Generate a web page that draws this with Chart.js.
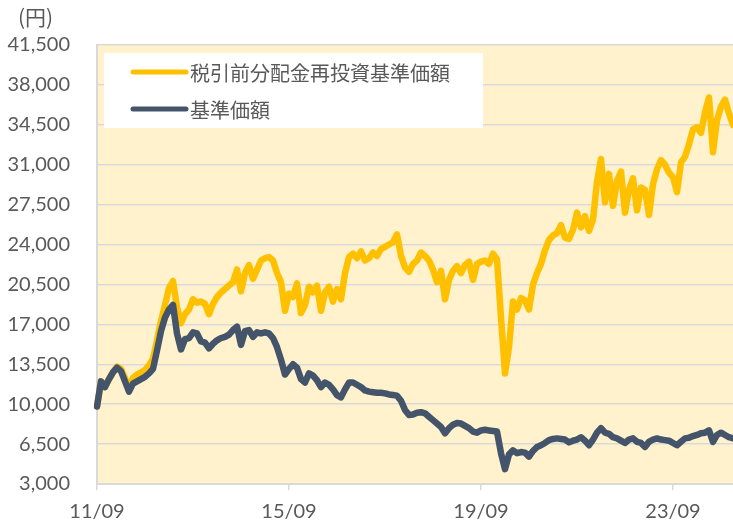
<!DOCTYPE html>
<html lang="ja">
  <head>
    <meta charset="UTF-8" />
    <title>基準価額の推移</title>
    <style>
      html,
      body {
        margin: 0;
        padding: 0;
        background: #fff;
      }
      .chart-box {
        width: 733px;
        height: 527px;
      }
    </style>
  </head>
  <body>
    <div class="chart-box">
      <canvas id="myChart" width="733" height="527"></canvas>
    </div>

    <script src="https://cdn.jsdelivr.net/npm/chart.js"></script>

    <script>
      // 月次 11/09 ～ 24/12
      const months = [];
      for (let y = 2011; y <= 2024; y++) {
        for (let m = 1; m <= 12; m++) {
          if (y === 2011 && m < 9) continue;
          months.push(String(y).slice(2) + "/" + String(m).padStart(2, "0"));
        }
      }

      const xTickLabels = ["11/09", "15/09", "19/09", "23/09"];
      const yTickValues = [3000, 6500, 10000, 13500, 17000, 20500, 24000, 27500, 31000, 34500, 38000, 41500];

      const seriesNames = ["税引前分配金再投資基準価額", "基準価額"];

      // 税引前分配金再投資基準価額
      const reinvested = [
        9800, 12000, 11500, 12200, 12800, 13300, 13100, 12300, 11500, 12300,
        12600, 12800, 13000, 13400, 14000, 15600, 17300, 18700, 20200, 20800,
        18500, 17100, 17900, 18300, 19200, 18900, 19000, 18800, 17900, 18800,
        19400, 19800, 20100, 20400, 20700, 21800, 19900, 21500, 22200, 21000,
        21800, 22600, 22800, 22900, 22600, 21500, 20700, 18200, 19700, 19400,
        20600, 18000, 18700, 20300, 19800, 20400, 18200, 19800, 20300, 19000,
        20100, 19200, 21500, 22900, 23200, 22800, 23400, 22600, 22800, 23300,
        23000, 23600, 23800, 24000, 24200, 24900, 23000, 22000, 21600, 22300,
        22600, 23300, 23000, 22600, 21800, 20700, 21700, 19200, 20900, 21700,
        22100, 21500, 22200, 22500, 20900, 22300, 22500, 22600, 22300, 23200,
        22700, 17600, 12700, 15000, 19000, 18300, 19300, 19100, 18300, 20500,
        21500, 22300, 23500, 24400, 24800, 25000, 25700, 24600, 24500, 25300,
        26800, 25500, 26500, 25200, 26200, 29500, 31500, 27700, 30200, 27400,
        29600, 30400, 26800, 28800, 29800, 27000, 29000, 28800, 26600, 29300,
        30600, 31400, 31000, 30300, 29900, 28600, 31200, 31700, 32800, 34100,
        34300, 33800, 35600, 36900, 32100, 34900, 36100, 36700, 35500, 34500,
      ];

      // 基準価額
      const nav = [
        9800, 12000, 11500, 12200, 12800, 13200, 12900, 12000, 11100, 11800,
        12000, 12200, 12400, 12700, 13100, 14700, 16400, 17600, 18300, 18700,
        16200, 14800, 15700, 15800, 16300, 16200, 15500, 15400, 14900, 15300,
        15600, 15800, 15900, 16100, 16500, 16800, 15200, 16400, 16500, 15900,
        16300, 16200, 16300, 16200, 15800, 15000, 13900, 12600, 13100, 13500,
        13200, 12200, 11900, 12700, 12500, 12100, 11500, 11900, 11700, 11300,
        10800, 10600, 11300, 11900, 11900, 11700, 11500, 11200, 11100, 11050,
        11000, 11000, 10950, 10850, 10800, 10750, 10300, 9500, 9050, 9100,
        9250, 9300, 9200, 8900, 8600, 8300, 8000, 7450, 7900, 8200,
        8350, 8300, 8100, 7900, 7600, 7500, 7700, 7750, 7700, 7650,
        7600, 5700, 4300, 5600, 5950, 5700, 5800, 5750, 5400, 5900,
        6250, 6400, 6600, 6850, 6950, 7000, 6950, 6900, 6650, 6800,
        6900, 7100, 6800, 6400, 6900, 7500, 7900, 7500, 7400, 7100,
        7000, 6800, 6600, 6900, 7000, 6700, 6600, 6250, 6700, 6900,
        7000, 6900, 6850, 6800, 6600, 6400, 6700, 7000, 7050, 7200,
        7300, 7450, 7500, 7700, 6700, 7300, 7500, 7300, 7100, 7000,
      ];

      const colors = ["#FFC000", "#44546A"];
      const textColor = "#595959";
      const gridColor = "#D9D9D9";
      const jpFont = '"Noto Sans CJK JP", "Noto Sans", sans-serif';
      const numFont = 'Lato, "Noto Sans", sans-serif';

      // 背景・凡例・単位
      const decorPlugin = {
        id: "decor",
        beforeDraw(chart) {
          const { ctx, chartArea: a } = chart;
          ctx.save();
          ctx.fillStyle = "#FFF2CC";
          ctx.fillRect(a.left, a.top, a.right - a.left, a.bottom - a.top);
          ctx.restore();
        },
        afterDraw(chart) {
          const { ctx, chartArea: a } = chart;
          ctx.save();
          ctx.fillStyle = textColor;
          ctx.font = "21px " + jpFont;
          ctx.textBaseline = "middle";
          ctx.textAlign = "left";
          ctx.fillText("(円)", 18, 17);

          const bx = a.left + 7;
          const by = a.top + 8;
          ctx.fillStyle = "#FFFFFF";
          ctx.fillRect(bx, by, 379, 75);

          ctx.font = "20px " + jpFont;
          ctx.lineCap = "round";
          ctx.lineWidth = 5;
          seriesNames.forEach((name, i) => {
            const ly = by + 19 + i * 37;
            ctx.strokeStyle = colors[i];
            ctx.beginPath();
            ctx.moveTo(bx + 29, ly);
            ctx.lineTo(bx + 82, ly);
            ctx.stroke();
            ctx.fillStyle = textColor;
            ctx.fillText(name, bx + 86, ly + 1);
          });
          ctx.restore();
        },
      };

      new Chart(document.getElementById("myChart"), {
        type: "line",
        data: {
          labels: months,
          datasets: [
            {
              label: seriesNames[0],
              data: reinvested,
              borderColor: colors[0],
              borderWidth: 6.5,
              pointRadius: 0,
              borderJoinStyle: "round",
              borderCapStyle: "round",
              order: 1,
            },
            {
              label: seriesNames[1],
              data: nav,
              borderColor: colors[1],
              borderWidth: 6.5,
              pointRadius: 0,
              borderJoinStyle: "round",
              borderCapStyle: "round",
              order: 0,
            },
          ],
        },
        options: {
          responsive: false,
          animation: false,
          devicePixelRatio: 1,
          layout: { padding: { top: 45, left: 0, right: 0, bottom: 0 } },
          plugins: {
            legend: { display: false },
            tooltip: { enabled: false },
          },
          scales: {
            x: {
              type: "category",
              offset: false,
              afterBuildTicks(scale) {
                scale.ticks = scale.ticks.filter((t) => xTickLabels.includes(months[t.value]));
              },
              afterFit(scale) {
                scale.height = 43;
              },
              grid: {
                drawOnChartArea: false,
                drawTicks: true,
                tickLength: 6,
                color: gridColor,
                lineWidth: 1.5,
              },
              border: { display: true, color: gridColor, width: 2 },
              ticks: {
                autoSkip: false,
                maxRotation: 0,
                padding: 10,
                color: textColor,
                font: { family: numFont, size: 20 },
              },
            },
            y: {
              min: 3000,
              max: 41500,
              afterBuildTicks(scale) {
                scale.ticks = yTickValues.map((v) => ({ value: v }));
              },
              afterFit(scale) {
                scale.width = 97;
              },
              grid: {
                drawTicks: false,
                color: gridColor,
                lineWidth: 1.5,
              },
              border: { display: true, color: gridColor, width: 2 },
              ticks: {
                padding: 27,
                color: textColor,
                font: { family: numFont, size: 20 },
                callback: (v) => v.toLocaleString("en-US"),
              },
            },
          },
        },
        plugins: [decorPlugin],
      });
    </script>
  </body>
</html>
